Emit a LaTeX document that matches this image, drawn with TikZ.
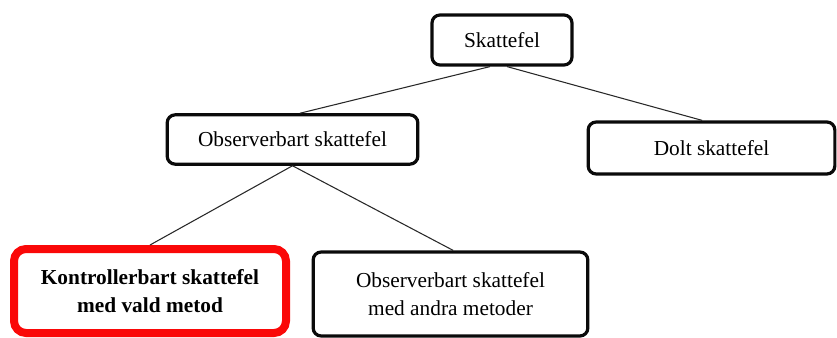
\documentclass[tikz,border=0pt]{standalone}
\usepackage{fontspec}
\setmainfont{Liberation Serif}
\definecolor{FrameClr}{RGB}{10,10,10}
\definecolor{MarkClr}{RGB}{250,8,8}
\definecolor{LinkClr}{RGB}{40,40,40}

\begin{document}
\begin{tikzpicture}[x=0.75pt,y=-0.75pt,
  box/.style={draw=FrameClr,line width=2.4pt,rounded corners=6pt,align=center,
    inner sep=0pt,font=\fontsize{16}{21}\selectfont},
  chosen/.style={box,draw=MarkClr,line width=6pt,rounded corners=9pt,font=\fontsize{16}{21}\selectfont\bfseries},
  link/.style={line width=0.8pt,color=LinkClr}]
\useasboundingbox (0,0) rectangle (837,338);

\node[box,minimum width=105pt,minimum height=37.5pt] (skatt) at (502,40) {Skattefel};
\node[box,minimum width=188pt,minimum height=37pt] (obs) at (292.5,139.5) {Observerbart skattefel};
\node[box,minimum width=185pt,minimum height=39pt] (dolt) at (711.5,148) {Dolt skattefel};

\node[chosen,minimum width=204pt,minimum height=63pt] (kontroll) at (150,291)
  {Kontrollerbart skattefel\\med vald metod};
\node[box,minimum width=206pt,minimum height=63pt] (andra) at (450.5,294)
  {Observerbart skattefel\\med andra metoder};

\draw[link] ([xshift=-9pt]skatt.south) -- ([xshift=5.6pt]obs.north);
\draw[link] ([xshift=3.75pt]skatt.south) -- ([xshift=-7pt]dolt.north);
\draw[link] (obs.south) -- (kontroll.north);
\draw[link] (obs.south) -- ([xshift=2pt]andra.north);

\end{tikzpicture}
\end{document}
